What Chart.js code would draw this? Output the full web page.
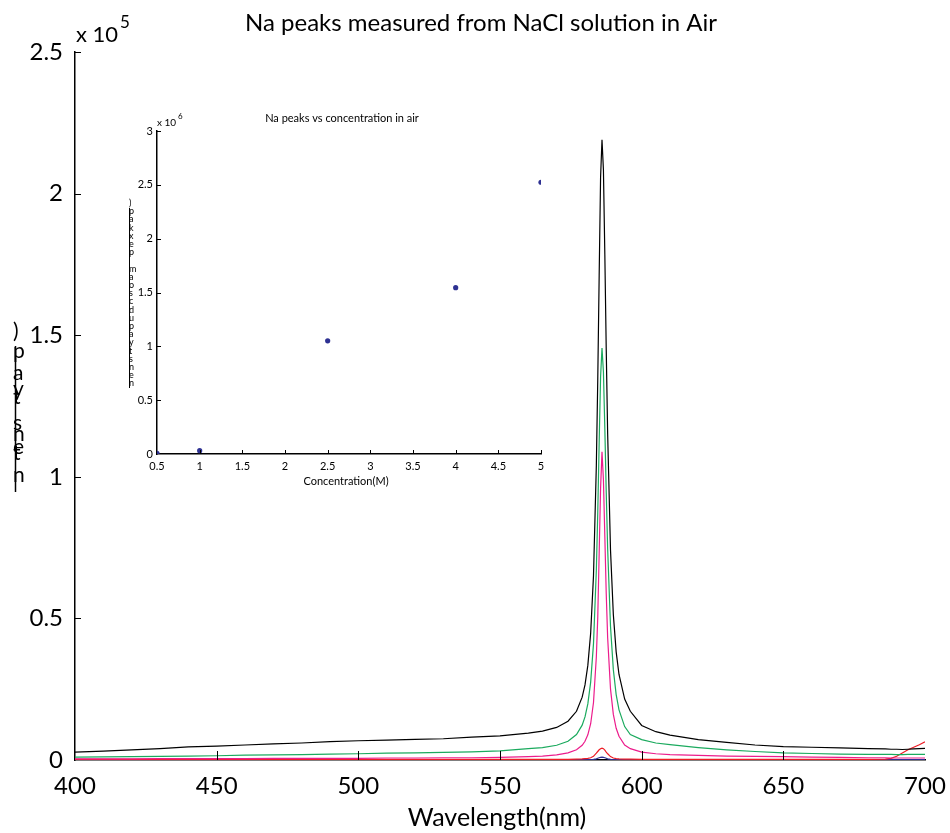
<!DOCTYPE html>
<html>
<head>
<meta charset="utf-8">
<script src="https://cdn.jsdelivr.net/npm/chart.js@4.4.1/dist/chart.umd.min.js"></script>
<style>
  html, body { margin: 0; padding: 0; background: #fff; }
  #wrap { position: relative; width: 950px; height: 833px; }
  canvas { position: absolute; left: 0; top: 0; }
</style>
</head>
<body>
<div id="wrap">
  <canvas id="main" width="950" height="833"></canvas>
  <canvas id="inset" width="950" height="833"></canvas>
</div>
<script>
// ---------- Main spectrum data (intensity in units of 1e5) ----------
const wavelengths = [400,410,420,430,440,450,460,470,480,490,500,510,520,530,540,550,560,565,570,574,577,579,580,581,582,583,584,584.5,585,585.5,586,586.5,587,587.5,588,589,590,591,592,594,596,600,605,610,620,630,640,650,660,670,680,686,688,690,692,694,696,698,700];

const blackSeries = [0.028,0.031,0.036,0.040,0.046,0.049,0.053,0.057,0.060,0.065,0.068,0.070,0.073,0.075,0.081,0.085,0.095,0.102,0.115,0.137,0.172,0.222,0.265,0.334,0.448,0.651,1.039,1.341,1.710,2.058,2.190,2.085,1.786,1.447,1.150,0.742,0.514,0.382,0.302,0.215,0.172,0.122,0.100,0.088,0.072,0.062,0.053,0.047,0.045,0.043,0.040,0.039,0.038,0.038,0.037,0.038,0.039,0.040,0.041];

const greenSeries = [0.010,0.011,0.012,0.013,0.014,0.015,0.017,0.018,0.019,0.021,0.022,0.024,0.025,0.027,0.029,0.032,0.040,0.044,0.052,0.066,0.090,0.123,0.152,0.198,0.275,0.411,0.670,0.873,1.120,1.353,1.455,1.371,1.171,0.944,0.745,0.472,0.319,0.231,0.177,0.118,0.090,0.072,0.060,0.054,0.044,0.036,0.030,0.025,0.023,0.021,0.020,0.020,0.020,0.019,0.019,0.020,0.020,0.020,0.020];

const magentaSeries = [0.004,0.004,0.004,0.005,0.005,0.005,0.005,0.006,0.006,0.006,0.006,0.007,0.007,0.008,0.008,0.009,0.012,0.014,0.018,0.025,0.036,0.052,0.066,0.089,0.128,0.203,0.364,0.503,0.730,0.960,1.088,0.990,0.789,0.586,0.431,0.251,0.161,0.112,0.084,0.053,0.040,0.028,0.022,0.019,0.016,0.014,0.013,0.012,0.010,0.009,0.008,0.008,0.007,0.007,0.007,0.007,0.007,0.007,0.007];

const redSeries = [0.002,0.002,0.002,0.002,0.002,0.002,0.002,0.002,0.002,0.002,0.002,0.002,0.002,0.002,0.002,0.002,0.002,0.002,0.002,0.002,0.003,0.004,0.005,0.006,0.008,0.013,0.024,0.030,0.036,0.040,0.042,0.040,0.035,0.028,0.022,0.012,0.007,0.005,0.004,0.003,0.003,0.002,0.002,0.002,0.002,0.002,0.002,0.002,0.002,0.002,0.002,0.003,0.006,0.013,0.025,0.036,0.045,0.054,0.064];

const blueSeries = [0.001,0.001,0.001,0.001,0.001,0.001,0.001,0.001,0.001,0.001,0.001,0.001,0.001,0.001,0.001,0.001,0.001,0.001,0.001,0.001,0.001,0.001,0.001,0.001,0.001,0.002,0.004,0.006,0.008,0.009,0.010,0.009,0.008,0.006,0.004,0.002,0.001,0.001,0.001,0.001,0.001,0.001,0.001,0.001,0.001,0.001,0.001,0.001,0.001,0.001,0.001,0.001,0.001,0.001,0.001,0.001,0.001,0.001,0.001];

const xTickValues = [400,450,500,550,600,650,700];
const yTickValues = [0,0.5,1,1.5,2,2.5];

// ---------- Inset data ----------
const concentrations = [0.5, 1, 2.5, 4, 5];
const peakIntensities = [0.006e6, 0.031e6, 1.051e6, 1.545e6, 2.524e6];
const insetXTicks = [0.5,1,1.5,2,2.5,3,3.5,4,4.5,5];
const insetYTicks = [0,0.5e6,1e6,1.5e6,2e6,2.5e6,3e6];

const FONT = 'Lato, "Open Sans", sans-serif';
Chart.defaults.font.family = FONT;
Chart.defaults.color = '#000';

function pairs(xs, ys) { return xs.map((x, i) => ({x: x, y: ys[i]})); }

function lineDs(data, color) {
  return { data: pairs(wavelengths, data), borderColor: color, borderWidth: 1.2,
           pointRadius: 0, fill: false, tension: 0 };
}

const mainPlugin = {
  id: 'mainDeco',
  afterDraw(chart) {
    const ctx = chart.ctx;
    const xs = chart.scales.x, ys = chart.scales.y;
    const a = chart.chartArea;
    ctx.save();
    ctx.strokeStyle = '#000';
    ctx.lineWidth = 1;
    xTickValues.slice(1, -1).forEach(v => {
      const px = Math.round(xs.getPixelForValue(v)) + 0.5;
      ctx.beginPath(); ctx.moveTo(px, a.bottom); ctx.lineTo(px, a.bottom - 9); ctx.stroke();
    });
    yTickValues.slice(1).forEach(v => {
      const py = Math.round(ys.getPixelForValue(v)) + 0.5;
      ctx.beginPath(); ctx.moveTo(a.left, py); ctx.lineTo(a.left + 6, py); ctx.stroke();
    });
    ctx.fillStyle = '#000';
    ctx.font = '24px ' + FONT;
    ctx.textAlign = 'center'; ctx.textBaseline = 'alphabetic';
    ctx.fillText('Na peaks measured from NaCl solution in Air', 481, 31);
    ctx.textAlign = 'left';
    ctx.font = '22px ' + FONT;
    ctx.fillText('x 10', 76, 42);
    ctx.font = '17px ' + FONT;
    ctx.fillText('5', 120, 28);
    ctx.font = '25px ' + FONT;
    ctx.textAlign = 'center';
    ctx.fillText('Wavelength(nm)', 497, 826);
    // garbled y label (stacked glyphs)
    ctx.font = '21px ' + FONT;
    ctx.textAlign = 'left';
    const glyphs = [[')',338],['p',358],['a',380],['y',396],['t',404],['s',430],['n',441],['e',454],['t',460],['n',482]];
    glyphs.forEach(g => ctx.fillText(g[0], 13, g[1]));
    ctx.lineWidth = 1.5;
    ctx.beginPath(); ctx.moveTo(15.5, 346); ctx.lineTo(15.5, 492); ctx.stroke();
    ctx.restore();
  }
};

new Chart(document.getElementById('main'), {
  type: 'line',
  data: { datasets: [
    lineDs(blackSeries, '#000000'),
    lineDs(greenSeries, '#1BAA5E'),
    lineDs(magentaSeries, '#EC1C8C'),
    lineDs(redSeries, '#EE1C25'),
    lineDs(blueSeries, '#2E3192')
  ]},
  options: {
    responsive: false, animation: false, devicePixelRatio: 1,
    layout: { padding: { left: 0, top: 52, right: 25, bottom: 0 } },
    plugins: { legend: { display: false }, tooltip: { enabled: false }, title: { display: false } },
    scales: {
      x: {
        type: 'linear', min: 400, max: 700,
        afterBuildTicks: s => { s.ticks = xTickValues.map(v => ({value: v})); },
        ticks: { font: { size: 24 }, color: '#000', padding: 12, maxRotation: 0, autoSkip: false,
                 callback: v => String(v) },
        grid: { display: false, drawTicks: false },
        border: { display: true, color: '#000', width: 1.5 },
        afterFit: s => { s.height = 73; s.paddingLeft = 0; s.paddingRight = 0; }
      },
      y: {
        type: 'linear', min: 0, max: 2.5,
        afterBuildTicks: s => { s.ticks = yTickValues.map(v => ({value: v})); },
        ticks: { font: { size: 24 }, color: '#000', padding: 12, callback: v => String(v) },
        grid: { display: false, drawTicks: false },
        border: { display: true, color: '#000', width: 1.5 },
        afterFit: s => { s.width = 75; s.paddingTop = 0; s.paddingBottom = 0; }
      }
    }
  },
  plugins: [mainPlugin]
});

const insetPlugin = {
  id: 'insetDeco',
  afterDraw(chart) {
    const ctx = chart.ctx;
    const xs = chart.scales.x, ys = chart.scales.y;
    const a = chart.chartArea;
    ctx.save();
    ctx.strokeStyle = '#000'; ctx.lineWidth = 1;
    insetXTicks.slice(1).forEach(v => {
      const px = Math.round(xs.getPixelForValue(v)) + 0.5;
      ctx.beginPath(); ctx.moveTo(px, a.bottom); ctx.lineTo(px, a.bottom - 4); ctx.stroke();
    });
    insetYTicks.slice(1).forEach(v => {
      const py = Math.round(ys.getPixelForValue(v)) + 0.5;
      ctx.beginPath(); ctx.moveTo(a.left, py); ctx.lineTo(a.left + 4, py); ctx.stroke();
    });
    ctx.fillStyle = '#000';
    ctx.font = '11px ' + FONT;
    ctx.textAlign = 'center'; ctx.textBaseline = 'alphabetic';
    ctx.fillText('Na peaks vs concentration in air', 342, 122);
    ctx.textAlign = 'left';
    ctx.font = '10px ' + FONT;
    ctx.fillText('x 10', 157, 126);
    ctx.font = '8px ' + FONT;
    ctx.fillText('6', 178, 119);
    ctx.font = '11px ' + FONT;
    ctx.textAlign = 'center';
    ctx.fillText('Concentration(M)', 346, 485);
    ctx.font = '9px ' + FONT;
    ctx.textAlign = 'left';
    const chars = [')','p','a','k','x','e','p',' ','m','a','o','s','c','d','u','p','a','y','t','s','n','e','n'];
    chars.forEach((c, i) => ctx.fillText(c, 129, 206 + i * 8.2));
    ctx.lineWidth = 1;
    ctx.beginPath(); ctx.moveTo(129.5, 208); ctx.lineTo(129.5, 388); ctx.stroke();
    ctx.restore();
  }
};

new Chart(document.getElementById('inset'), {
  type: 'scatter',
  data: { datasets: [{
    data: pairs(concentrations, peakIntensities),
    backgroundColor: '#2E3192', borderColor: '#2E3192',
    pointRadius: 2.6, pointBorderWidth: 0
  }]},
  options: {
    responsive: false, animation: false, devicePixelRatio: 1,
    layout: { padding: { left: 0, top: 131, right: 409, bottom: 0 } },
    plugins: { legend: { display: false }, tooltip: { enabled: false } },
    scales: {
      x: {
        type: 'linear', min: 0.5, max: 5,
        afterBuildTicks: s => { s.ticks = insetXTicks.map(v => ({value: v})); },
        ticks: { font: { size: 11 }, color: '#000', padding: 6, maxRotation: 0, autoSkip: false,
                 callback: v => String(v) },
        grid: { display: false, drawTicks: false },
        border: { display: true, color: '#000', width: 1.5 },
        afterFit: s => { s.height = 379; s.paddingLeft = 0; s.paddingRight = 0; }
      },
      y: {
        type: 'linear', min: 0, max: 3e6,
        afterBuildTicks: s => { s.ticks = insetYTicks.map(v => ({value: v})); },
        ticks: { font: { size: 11 }, color: '#000', padding: 4, callback: v => String(v / 1e6) },
        grid: { display: false, drawTicks: false },
        border: { display: true, color: '#000', width: 1.5 },
        afterFit: s => { s.width = 157; s.paddingTop = 0; s.paddingBottom = 0; }
      }
    }
  },
  plugins: [insetPlugin]
});
</script>
</body>
</html>
